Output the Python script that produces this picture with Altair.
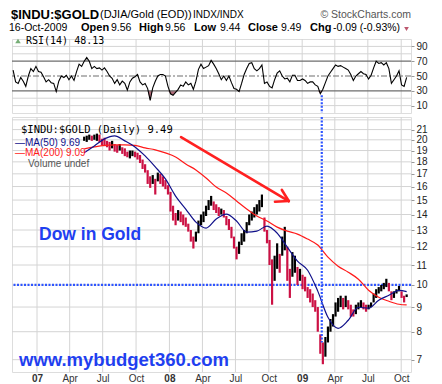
import altair as alt
import pandas as pd
import numpy as np

# ---------------- data ----------------
RSI_START = "2006-10-27"          # weekly readings
rsi_values = [
    58, 42, 40, 48, 43, 36, 50, 60, 56, 63,
    56, 55, 49, 42, 45, 41, 40, 29, 43, 50,
    48, 51, 45, 50, 44, 56, 66, 63, 70, 75,
    70, 60, 63, 60, 61, 58, 61, 56, 50, 47,
    40, 45, 38, 43, 40, 31, 42, 47, 49, 52,
    42, 38, 40, 33, 17, 34, 43, 50, 52, 52,
    50, 36, 26, 24, 28, 32, 38, 36, 42, 38,
    40, 32, 43, 59, 66, 60, 62, 64, 71, 66,
    60, 53, 45, 50, 44, 50, 41, 33, 32, 29,
    40, 52, 60, 67, 68, 60, 57, 60, 65, 40,
    42, 36, 34, 45, 54, 57, 50, 46, 47, 42,
    51, 51, 44, 44, 46, 44, 40, 42, 42, 38,
    36, 26, 32, 41, 50, 55, 60, 65, 63, 64,
    62, 60, 58, 52, 44, 50, 53, 56, 53, 52,
    46, 51, 61, 70, 67, 68, 65, 68, 60, 40,
    45, 50, 57, 38, 36, 48.13,
]

PRICE_START = "2007-05-11"        # weekly high / low ranges
price_low = [
    19.9, 19.8, 20.0, 19.9, 20.0, 19.9, 19.8, 19.5, 19.4, 19.3,
    19.0, 19.2, 18.9, 18.8, 19.0, 18.7, 18.5, 18.4, 18.3, 18.5,
    18.4, 18.2, 17.9, 17.4, 17.1, 16.2, 15.9, 16.2, 15.4, 16.4,
    16.2, 16.0, 15.8, 15.4, 14.2, 13.6, 13.3, 13.6, 13.5, 13.3,
    13.2, 12.9, 12.3, 11.9, 12.3, 12.8, 13.3, 13.5, 13.9, 14.3,
    14.6, 14.3, 14.1, 13.9, 14.0, 13.8, 13.3, 13.0, 12.5, 11.9,
    11.3, 11.6, 12.1, 12.3, 12.8, 13.3, 13.6, 13.8, 14.0, 14.2,
    14.5, 12.9, 12.2, 11.0, 9.1, 10.2, 10.8, 10.6, 11.5, 11.8,
    10.2, 9.4, 10.4, 10.6, 10.0, 10.2, 9.8, 9.7, 9.4, 9.2,
    9.0, 8.8, 8.0, 7.2, 6.85, 7.1, 7.6, 8.0, 8.2, 8.6,
    8.8, 9.0, 8.9, 9.0, 8.9, 8.6, 8.6, 8.7, 8.9, 9.0,
    8.9, 8.8, 8.9, 9.0, 9.2, 9.4, 9.6, 9.7, 9.8, 9.9,
    9.7, 9.3, 9.4, 9.6, 9.7, 9.4, 9.2, 9.44,
]
price_high = [
    20.3, 20.4, 20.5, 20.4, 20.5, 20.6, 20.5, 20.1, 20.2, 19.9,
    19.8, 19.9, 19.6, 19.5, 19.6, 19.3, 19.2, 18.9, 19.0, 19.0,
    18.9, 18.8, 18.6, 18.2, 17.8, 17.3, 16.8, 16.9, 16.6, 17.1,
    17.0, 16.8, 16.5, 16.1, 15.6, 14.6, 14.1, 14.3, 14.2, 14.0,
    13.8, 13.4, 13.0, 12.6, 12.9, 13.6, 14.0, 14.2, 14.6, 15.0,
    15.3, 14.9, 14.7, 14.5, 14.4, 14.3, 13.9, 13.7, 13.2, 12.6,
    12.0, 12.3, 12.8, 13.0, 13.5, 14.0, 14.2, 14.5, 14.7, 15.0,
    15.4, 13.8, 13.0, 12.4, 11.3, 11.5, 12.2, 11.6, 12.6, 13.2,
    12.0, 10.8, 11.7, 11.5, 10.9, 10.8, 10.5, 10.4, 9.9, 9.8,
    9.6, 9.3, 9.0, 7.9, 7.6, 7.8, 8.2, 8.5, 8.7, 9.2,
    9.4, 9.5, 9.4, 9.5, 9.3, 9.1, 8.9, 9.1, 9.2, 9.3,
    9.2, 9.1, 9.1, 9.2, 9.6, 9.8, 9.9, 10.0, 10.1, 10.3,
    10.1, 9.7, 9.7, 9.8, 9.95, 9.7, 9.5, 9.56,
]

MA_START = "2007-05-11"           # every 4 weeks, plus the last day
MA_LAST = "2009-10-16"
ma50_values = [
    18.79, 19.42, 20.09, 20.38, 19.90, 19.33, 18.52, 17.57, 16.59, 15.29,
    14.37, 13.50, 13.12, 13.70, 14.03, 13.57, 12.87, 12.93, 13.25, 12.81,
    11.98, 11.21, 10.73, 9.71, 8.57, 8.13, 8.45, 8.99, 8.95, 9.30,
    9.52, 9.75, 9.69,
]
ma200_values = [
    19.15, 19.33, 19.47, 19.52, 19.52, 19.47, 19.24, 19.06, 18.79, 18.43,
    17.82, 17.32, 16.67, 15.96, 15.51, 14.93, 14.37, 13.90, 13.57, 13.18,
    12.93, 12.75, 12.45, 12.10, 11.42, 10.94, 10.63, 10.28, 9.75, 9.43,
    9.25, 9.12, 9.09,
]

quarter_starts = ["2007-01-01", "2007-04-01", "2007-07-01", "2007-10-01",
                  "2008-01-01", "2008-04-01", "2008-07-01", "2008-10-01",
                  "2009-01-01", "2009-04-01", "2009-07-01", "2009-10-01"]
price_ticks = list(range(7, 22))
price_grid = list(range(7, 23))
rsi_ticks = [10, 30, 50, 70, 90]
rsi_light = [10, 20, 80, 90]
rsi_bands = [30, 70]

# annotations (data coordinates)
arrow_start_dates = ["2008-02-02", "2008-11-06", "2008-10-18"]
arrow_start_vals = [20.26, 15.74, 14.88]
arrow_tip_date = "2008-11-25"
arrow_tip_val = 14.93
marker_date = "2009-02-24"
level_line = 10

# ---------------- frames ----------------
rsi_df = pd.DataFrame({"date": pd.date_range(RSI_START, periods=len(rsi_values), freq="7D"),
                       "rsi": rsi_values})
price_df = pd.DataFrame({"date": pd.date_range(PRICE_START, periods=len(price_low), freq="7D"),
                         "low": price_low, "high": price_high})
mid = (price_df["low"] + price_df["high"]) / 2
price_df["dir"] = np.where(mid.diff() < 0, "down", "up")
ma_dates = list(pd.date_range(MA_START, periods=len(ma50_values) - 1, freq="28D")) + [pd.Timestamp(MA_LAST)]
ma_df = pd.DataFrame({"date": ma_dates, "ma50": ma50_values, "ma200": ma200_values})
q_df = pd.DataFrame({"date": pd.to_datetime(quarter_starts)})
arrow_df = pd.DataFrame({"d1": pd.to_datetime(arrow_start_dates), "v1": arrow_start_vals,
                         "d2": pd.to_datetime([arrow_tip_date] * 3), "v2": [arrow_tip_val] * 3})
one = pd.DataFrame({"k": [0]})

W = 399
H_RSI = 74
H_MAIN = 255

x_scale = alt.Scale(domain=[alt.DateTime(year=2006, month=10, date=24),
                            alt.DateTime(year=2009, month=10, date=28)], nice=False)
q_values = [alt.DateTime(year=int(s[:4]), month=int(s[5:7]), date=1) for s in quarter_starts]

x_axis_main = alt.Axis(values=q_values,
                       labelExpr="month(datum.value)==0 ? timeFormat(datum.value,'%y') : timeFormat(datum.value,'%b')",
                       labelFontWeight={"condition": {"test": "month(datum.value)==0", "value": "bold"},
                                        "value": "normal"},
                       grid=False, domain=False, ticks=False, tickSize=0, labelFont="Liberation Sans",
                       labelFontSize=10, labelColor="#333333", labelPadding=1, labelBaseline="top",
                       labelFlush=False, labelOverlap=False, title=None)

y_scale_main = alt.Scale(type="log", domain=[6.6, 22.3], nice=False, zero=False)
y_axis_main = alt.Axis(orient="right", values=price_ticks, format="d", grid=False, domain=False,
                       tickSize=3, tickColor="#999999", labelFont="Liberation Sans", labelFontSize=10,
                       labelColor="#222222", labelPadding=2, labelOverlap=False, labelFlush=False, title=None)

y_scale_rsi = alt.Scale(domain=[0, 100], nice=False, zero=False)
y_axis_rsi = alt.Axis(orient="right", values=rsi_ticks, grid=False, domain=False, tickSize=3,
                      tickColor="#999999", labelFont="Liberation Sans", labelFontSize=10,
                      labelColor="#222222", labelPadding=2, labelOverlap=False, labelFlush=False, title=None)


def XM(f="date"):
    return alt.X(f"{f}:T", scale=x_scale, axis=x_axis_main, title=None)


def XR(f="date"):
    return alt.X(f"{f}:T", scale=x_scale, axis=None, title=None)


def YM(f):
    return alt.Y(f"{f}:Q", scale=y_scale_main, axis=y_axis_main, title=None)


def YR(f):
    return alt.Y(f"{f}:Q", scale=y_scale_rsi, axis=y_axis_rsi, title=None)


def label(text, x, y, size=10.5, weight="normal", color="black", font="Liberation Sans", align="left"):
    return alt.Chart(one).mark_text(align=align, baseline="middle", font=font, fontSize=size,
                                    fontWeight=weight, color=color).encode(
        x=alt.value(x), y=alt.value(y), text=alt.value(text))


DOT_BLUE = "#2f55ff"

# ---------------- RSI panel ----------------
r_vgrid = alt.Chart(q_df).mark_rule(color="#d4d4d4", strokeWidth=1).encode(x=XR())
r_hgrid = alt.Chart(pd.DataFrame({"v": rsi_light})).mark_rule(color="#d4d4d4", strokeWidth=1).encode(y=YR("v"))
r_low_fill = alt.Chart(rsi_df).transform_calculate(lo="min(datum.rsi, 30)", base="30").mark_area(
    color="#a85c6c", opacity=0.9).encode(x=XR(), y=YR("lo"), y2="base:Q")
r_high_fill = alt.Chart(rsi_df).transform_calculate(hi="max(datum.rsi, 70)", base="70").mark_area(
    color="#9a9a9a", opacity=0.8).encode(x=XR(), y=YR("hi"), y2="base:Q")
r_bands = alt.Chart(pd.DataFrame({"v": rsi_bands})).mark_rule(color="#6e6e6e", strokeWidth=1.3).encode(y=YR("v"))
r_mid = alt.Chart(pd.DataFrame({"v": [50]})).mark_rule(color="#6e6e6e", strokeWidth=1.2,
                                                      strokeDash=[6, 2, 2, 2]).encode(y=YR("v"))
r_line = alt.Chart(rsi_df).mark_line(color="black", strokeWidth=1.1).encode(x=XR(), y=YR("rsi"))
r_marker = alt.Chart(pd.DataFrame({"date": [pd.Timestamp(marker_date)], "top": [24], "bot": [0]})).mark_rule(
    color=DOT_BLUE, strokeWidth=2.2, strokeDash=[2, 1.5]).encode(x=XR(), y=YR("top"), y2="bot:Q")
r_icon = alt.Chart(one).mark_point(shape="triangle-up", filled=True, color="#3d8b3d", size=30).encode(
    x=alt.value(6), y=alt.value(2))

header = [
    label("$INDU:$GOLD", -1, -24, size=13, weight="bold"),
    label("(DJIA/Gold (EOD))", 88, -24, size=11),
    label("INDX/INDX", 181, -24, size=10),
    label("© StockCharts.com", 399, -24, size=10.5, color="#555555", align="right"),
    label("16-Oct-2009", -3, -11),
    label("Open", 69, -11, size=11, weight="bold"),
    label("9.56", 99, -11),
    label("High", 127, -11, size=11, weight="bold"),
    label("9.56", 153, -11),
    label("Low", 182, -11, size=11, weight="bold"),
    label("9.44", 208, -11),
    label("Close", 236, -11, size=11, weight="bold"),
    label("9.49", 269, -11),
    label("Chg", 298, -11, size=11, weight="bold"),
    label("-0.09 (-0.93%)", 321, -11),
    alt.Chart(one).mark_point(shape="triangle-down", filled=True, color="#a01030", size=22).encode(
        x=alt.value(394.5), y=alt.value(-10)),
]

rsi_chart = alt.layer(
    r_vgrid, r_hgrid, r_low_fill, r_high_fill, r_bands, r_mid, r_line, r_marker, r_icon,
    label("RSI(14) 48.13", 14, 2, size=10, font="DejaVu Sans Mono"),
    *header,
).properties(width=W, height=H_RSI)

# ---------------- price panel ----------------
m_vgrid = alt.Chart(q_df).mark_rule(color="#d4d4d4", strokeWidth=1).encode(x=XM())
m_hgrid = alt.Chart(pd.DataFrame({"v": price_grid})).mark_rule(color="#d4d4d4", strokeWidth=1).encode(y=YM("v"))
m_bars = alt.Chart(price_df).mark_rule(strokeWidth=2.2).encode(
    x=XM(), y=YM("low"), y2="high:Q",
    color=alt.Color("dir:N", scale=alt.Scale(domain=["up", "down"], range=["#000000", "#cc1144"]), legend=None))
m_ma200 = alt.Chart(ma_df).mark_line(color="#ff1a1a", strokeWidth=1.2, interpolate="monotone").encode(
    x=XM(), y=YM("ma200"))
m_ma50 = alt.Chart(ma_df).mark_line(color="#10108a", strokeWidth=1.2, interpolate="monotone").encode(
    x=XM(), y=YM("ma50"))
m_level = alt.Chart(pd.DataFrame({"v": [level_line]})).mark_rule(
    color=DOT_BLUE, strokeWidth=2.2, strokeDash=[2, 1.5]).encode(y=YM("v"))
m_marker = alt.Chart(pd.DataFrame({"date": [pd.Timestamp(marker_date)], "top": [22.3], "bot": [7.6]})).mark_rule(
    color=DOT_BLUE, strokeWidth=2.2, strokeDash=[2, 1.5]).encode(x=XM(), y=YM("top"), y2="bot:Q")
m_arrow = alt.Chart(arrow_df).mark_rule(color="#ff2020", strokeWidth=2.6, strokeCap="round").encode(
    x=XM("d1"), x2="d2:T", y=YM("v1"), y2="v2:Q")
m_align = alt.Chart(one).mark_rule(color="white", strokeOpacity=0.01).encode(
    x=alt.value(-3), y=alt.value(100), y2=alt.value(101))

main_chart = alt.layer(
    m_vgrid, m_hgrid, m_level, m_bars, m_ma200, m_ma50, m_marker, m_arrow, m_align,
    label("$INDU:$GOLD (Daily) 9.49", 9, 13, size=10.5, font="DejaVu Sans Mono"),
    label("—MA(50) 9.69", 3, 25.5, size=10, color="#10108a"),
    label("—MA(200) 9.09", 3, 36, size=10, color="#ff1a1a"),
    label("Volume undef", 16, 47, size=10, color="#555555"),
    label("Dow in Gold", 27, 118, size=17.5, weight="bold", color="#1f3ff0"),
    label("www.mybudget360.com", 7, 243, size=18.5, weight="bold", color="#1f3ff0"),
).properties(width=W, height=H_MAIN)

chart = alt.vconcat(rsi_chart, main_chart, spacing=0).properties(
    padding={"left": 0, "top": 0, "right": 2, "bottom": 0}
).configure_view(stroke="#9a9a9a", strokeWidth=1).configure(background="white")

chart.save("out.html", embed_options={"renderer": "svg", "actions": False})
